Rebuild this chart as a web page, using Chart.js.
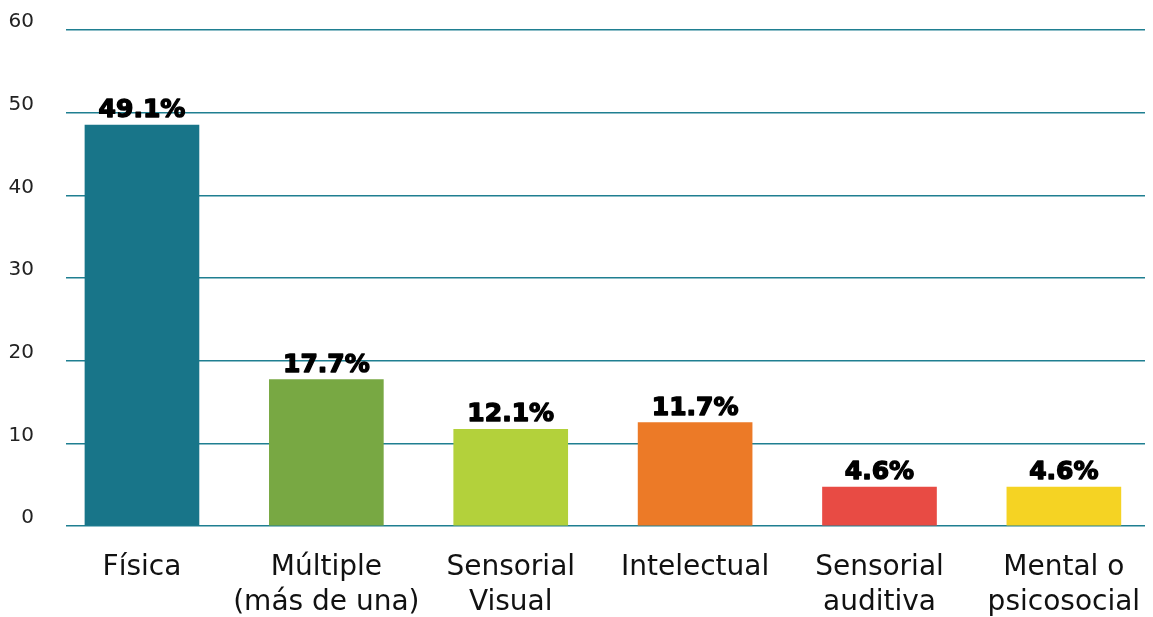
<!DOCTYPE html>
<html>
<head>
<meta charset="utf-8">
<script src="https://cdn.jsdelivr.net/npm/chart.js@4"></script>
<style>
  html, body { margin: 0; padding: 0; background: #ffffff; }
  #wrap { width: 1153px; height: 617px; }
</style>
</head>
<body>
<div id="wrap"><canvas id="c" width="1153" height="617"></canvas></div>
<script>
const categories = [
  "Física",
  ["Múltiple", "(más de una)"],
  ["Sensorial", "Visual"],
  "Intelectual",
  ["Sensorial", "auditiva"],
  ["Mental o", "psicosocial"]
];
const values = [48.5, 17.7, 11.7, 12.5, 4.7, 4.7];
const valueLabels = ["49.1%", "17.7%", "12.1%", "11.7%", "4.6%", "4.6%"];
const barColors = ["#187589", "#78a843", "#b3d13b", "#ec7a27", "#e84b44", "#f5d323"];
const yTicks = [0, 10, 20, 30, 40, 50, 60];

const points = values.map((v, i) => ({ x: i, y: v }));

const valueLabelPlugin = {
  id: 'valueLabels',
  afterDatasetsDraw(chart) {
    const ctx = chart.ctx;
    const meta = chart.getDatasetMeta(0);
    ctx.save();
    ctx.font = 'bold 25px "DejaVu Sans"';
    ctx.fillStyle = '#000000';
    ctx.strokeStyle = '#000000';
    ctx.lineWidth = 1.4;
    ctx.lineJoin = 'round';
    ctx.textAlign = 'center';
    ctx.textBaseline = 'alphabetic';
    meta.data.forEach((bar, i) => {
      ctx.strokeText(valueLabels[i], bar.x, bar.y - 8);
      ctx.fillText(valueLabels[i], bar.x, bar.y - 8);
    });
    ctx.restore();
  }
};

new Chart(document.getElementById('c'), {
  type: 'bar',
  data: {
    datasets: [{
      data: points,
      backgroundColor: barColors,
      borderWidth: 0,
      barThickness: 114
    }]
  },
  options: {
    responsive: false,
    animation: false,
    layout: { padding: { top: 30, right: 8, left: 0, bottom: 0 } },
    plugins: { legend: { display: false }, tooltip: { enabled: false } },
    scales: {
      x: {
        type: 'linear',
        min: -0.412,
        max: 5.44,
        offset: false,
        grid: { display: false, offset: false },
        border: { display: false },
        afterBuildTicks(scale) {
          scale.ticks = categories.map((c, i) => ({ value: i }));
        },
        afterFit(scale) {
          scale.height = 91;
          scale.paddingLeft = 0;
          scale.paddingRight = 0;
        },
        ticks: {
          autoSkip: false,
          maxRotation: 0,
          padding: 16,
          color: '#111111',
          font: { family: '"DejaVu Sans"', size: 28, lineHeight: 1.25 },
          callback: (v) => categories[v]
        }
      },
      y: {
        min: 0,
        max: 60,
        afterBuildTicks(scale) {
          scale.ticks = yTicks.map(v => ({ value: v }));
        },
        afterFit(scale) {
          scale.width = 66;
          scale.paddingTop = 0;
          scale.paddingBottom = 0;
        },
        grid: { color: '#1f7f91', lineWidth: 1.5, drawTicks: false },
        border: { display: false },
        ticks: {
          padding: 32,
          labelOffset: -8,
          color: '#222222',
          font: { family: '"DejaVu Sans"', size: 20 }
        }
      }
    }
  },
  plugins: [valueLabelPlugin]
});
</script>
</body>
</html>
